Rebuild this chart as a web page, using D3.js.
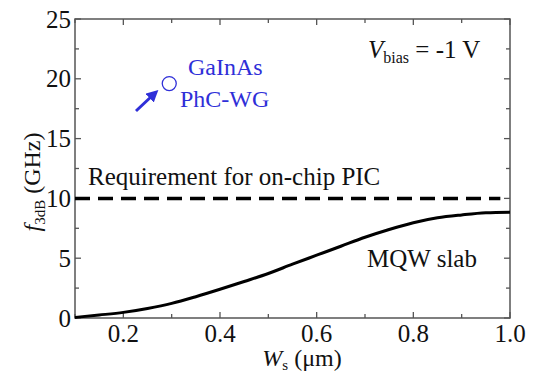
<!DOCTYPE html>
<html><head><meta charset="utf-8">
<script src="https://cdn.jsdelivr.net/npm/d3@7"></script>
<style>body{margin:0;background:#fff}svg{display:block}</style>
</head><body>
<svg id="c" width="539" height="377" font-family="'Liberation Serif', 'Times New Roman', Times, serif"></svg>
<script>
const ws = [0.10,0.15,0.20,0.25,0.30,0.35,0.40,0.45,0.50,0.55,0.60,0.65,0.70,0.75,0.80,0.85,0.90,0.95,1.00];
const f3dB = [0.05,0.25,0.47,0.8,1.22,1.78,2.4,3.05,3.72,4.5,5.25,6.0,6.75,7.4,7.97,8.38,8.62,8.8,8.85];
const requirement = 10;
const phcPoint = [0.295, 19.6];
const xTicks = [0.2,0.4,0.6,0.8,1.0];
const yTicks = [0,5,10,15,20,25];

const svg = d3.select("#c");
const L=75, R=510, T=19, B=318;
const x = d3.scaleLinear().domain([0.1,1.0]).range([L,R]);
const y = d3.scaleLinear().domain([0,25]).range([B,T]);
const axc = "#555";

svg.append("rect").attr("x",L).attr("y",T).attr("width",R-L).attr("height",B-T)
  .attr("fill","none").attr("stroke",axc).attr("stroke-width",1.5);

const tl=6, tlm=4;
d3.range(0.1,1.0001,0.1).forEach(v=>{
  const isMaj = xTicks.some(t=>Math.abs(t-v)<1e-6);
  const len = isMaj?tl:tlm;
  svg.append("line").attr("x1",x(v)).attr("x2",x(v)).attr("y1",B).attr("y2",B-len).attr("stroke",axc).attr("stroke-width",1.3);
  svg.append("line").attr("x1",x(v)).attr("x2",x(v)).attr("y1",T).attr("y2",T+len).attr("stroke",axc).attr("stroke-width",1.3);
});
d3.range(0,25.001,2.5).forEach(v=>{
  const isMaj = yTicks.some(t=>Math.abs(t-v)<1e-6);
  const len = isMaj?tl:tlm;
  svg.append("line").attr("x1",L).attr("x2",L+len).attr("y1",y(v)).attr("y2",y(v)).attr("stroke",axc).attr("stroke-width",1.3);
  svg.append("line").attr("x1",R).attr("x2",R-len).attr("y1",y(v)).attr("y2",y(v)).attr("stroke",axc).attr("stroke-width",1.3);
});

const fs = 25, sfs = 15;
svg.selectAll(".xl").data(xTicks).enter().append("text")
  .attr("x",d=>x(d)).attr("y",342).attr("text-anchor","middle").attr("font-size",fs).attr("fill","#111")
  .text(d=>d.toFixed(1));
svg.selectAll(".yl").data(yTicks).enter().append("text")
  .attr("x",71).attr("y",d=>y(d)+8.5).attr("text-anchor","end").attr("font-size",fs).attr("fill","#111")
  .text(d=>d);

const xt = svg.append("text").attr("x",302).attr("y",366).attr("text-anchor","middle").attr("font-size",fs-1).attr("fill","#111");
xt.append("tspan").attr("font-style","italic").text("W");
xt.append("tspan").attr("font-size",sfs).attr("dy",4).text("s");
xt.append("tspan").attr("dy",-4).text(" (μm)");

const yt = svg.append("text").attr("transform","translate(40,182) rotate(-90)").attr("text-anchor","middle").attr("font-size",fs-1).attr("fill","#111");
yt.append("tspan").attr("font-style","italic").text("f");
yt.append("tspan").attr("font-size",sfs).attr("dy",5).text("3dB");
yt.append("tspan").attr("dy",-5).text(" (GHz)");

svg.append("line").attr("x1",x(0.1)).attr("x2",x(0.98)).attr("y1",y(requirement)).attr("y2",y(requirement))
  .attr("stroke","#000").attr("stroke-width",3.5).attr("stroke-dasharray","15,8");

const line = d3.line().x((d,i)=>x(ws[i])).y(d=>y(d)).curve(d3.curveMonotoneX);
svg.append("path").datum(f3dB).attr("d",line).attr("fill","none").attr("stroke","#000").attr("stroke-width",3);

svg.append("text").attr("x",88).attr("y",185).attr("font-size",fs).attr("fill","#111").text("Requirement for on-chip PIC");
svg.append("text").attr("x",367).attr("y",267).attr("font-size",fs).attr("fill","#111").text("MQW slab");
const vb = svg.append("text").attr("x",368).attr("y",58).attr("font-size",fs).attr("fill","#111");
vb.append("tspan").attr("font-style","italic").text("V");
vb.append("tspan").attr("font-size",sfs+1).attr("dy",5).text("bias");
vb.append("tspan").attr("dy",-5).text(" = -1 V");

const blue="#2f2fd8";
svg.append("circle").attr("cx",x(phcPoint[0])).attr("cy",y(phcPoint[1])).attr("r",7)
  .attr("fill","none").attr("stroke",blue).attr("stroke-width",1.3);
svg.append("defs").append("marker").attr("id","ah").attr("viewBox","0 0 10 10").attr("refX",5).attr("refY",5)
  .attr("markerWidth",4).attr("markerHeight",4).attr("orient","auto")
  .append("path").attr("d","M0,0 L10,5 L0,10 z").attr("fill",blue);
svg.append("line").attr("x1",136).attr("y1",111).attr("x2",154).attr("y2",94)
  .attr("stroke",blue).attr("stroke-width",3).attr("marker-end","url(#ah)");
svg.append("text").attr("x",188).attr("y",75).attr("font-size",fs-1).attr("fill",blue).text("GaInAs");
svg.append("text").attr("x",180).attr("y",107).attr("font-size",fs-1).attr("fill",blue).text("PhC-WG");
</script>
</body></html>
